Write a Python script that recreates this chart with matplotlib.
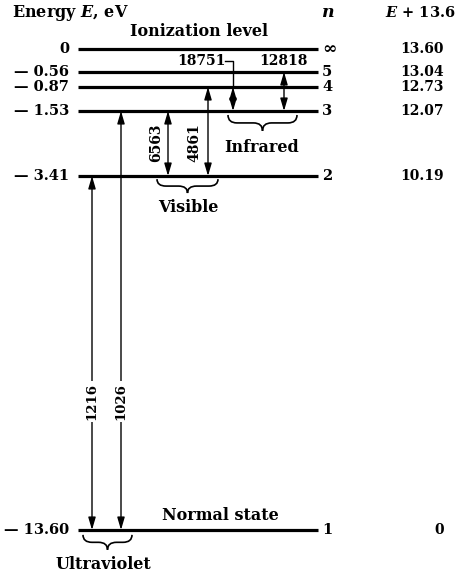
import numpy as np
import matplotlib
matplotlib.use("Agg")
import matplotlib.pyplot as plt
from matplotlib.path import Path
from matplotlib.patches import PathPatch

plt.rcParams['font.family'] = ['DejaVu Serif']
plt.rcParams['font.weight'] = 'bold'
plt.rcParams['mathtext.fontset'] = 'dejavuserif'

# hydrogen energy levels
energies = [0.0, -0.56, -0.87, -1.53, -3.41, -13.60]
n_labels = ['\u221e', '5', '4', '3', '2', '1']
n_values = [np.inf, 5, 4, 3, 2, 1]
e_plus = [13.60, 13.04, 12.73, 12.07, 10.19, 0]

# transitions (wavelength in angstrom)
wavelengths = [1216, 1026, 6563, 4861, 18751, 12818]
upper_n = [2, 3, 3, 4, 4, 5]
lower_n = [1, 1, 2, 2, 3, 3]

# layout of the drawing (x in pixels, y in eV)
arrow_x = [92, 121, 168, 208, 233, 284]
label_pos = [(92, -9.89, 'in'), (121, -9.89, 'in'), (156, -2.455, 'rot'),
             (194, -2.455, 'rot'), (201, -0.29, 'flat'), (283, -0.29, 'flat')]
level_E = dict(zip(n_values, energies))

# schematic energy axis: slightly stretched near the ionization limit
knot_E = np.array([-40.0, -13.60, -3.41, -1.53, -0.87, -0.56, 0.0, 40.0])
knot_px = np.array([530 + 26.4 * 34.7, 530, 176, 111, 87, 72, 49, 49 - 40 * 34.7])


def fwd(e):
    return np.interp(np.asarray(e, float), knot_E, -knot_px)


def inv(v):
    return np.interp(np.asarray(v, float), -knot_px, knot_E)


fig = plt.figure(figsize=(4.56, 5.75), dpi=100)
ax = fig.add_axes([0, 0, 1, 1])
ax.set_yscale('function', functions=(fwd, inv))
ax.set_xlim(0, 456)
ax.set_ylim(float(inv(-575)), float(inv(0)))
ax.axis('off')

fs = 11.5   # words
fd = 10.5   # numbers

# levels
for E, nl, ep in zip(energies, n_labels, e_plus):
    ax.hlines(E, 78, 318, color='black', lw=2.3, zorder=3)
    txt = '0' if E == 0 else '\u2014 %.2f' % abs(E)
    ax.text(69, E, txt, ha='right', va='center', fontsize=fd)
    ax.text(322, E, nl, ha='left', va='center', fontsize=fd + (2 if nl == '\u221e' else 0))
    ax.text(444, E, '0' if ep == 0 else '%.2f' % ep, ha='right', va='center', fontsize=10)

# headers
ax.text(12, 1.04, r'Energy $\mathbfit{E}$, eV', ha='left', va='center', fontsize=fs)
ax.text(328, 1.04, r'$\mathbfit{n}$', ha='center', va='center', fontsize=fs + 1)
ax.text(456, 1.04, r'$\mathbfit{E}$ + 13.6', ha='right', va='center', fontsize=10.5)
ax.text(199, 0.49, 'Ionization level', ha='center', va='center', fontsize=fs)
ax.text(220, -13.17, 'Normal state', ha='center', va='center', fontsize=fs)

# transition arrows
for wl, nu, nlo, x, (lx, ly, mode) in zip(wavelengths, upper_n, lower_n, arrow_x, label_pos):
    ax.annotate('', xy=(x, level_E[nlo]), xytext=(x, level_E[nu]),
                arrowprops=dict(arrowstyle='<|-|>,head_length=0.75,head_width=0.22',
                                mutation_scale=10, lw=1.0, color='black',
                                shrinkA=0, shrinkB=0), zorder=4)
    if mode == 'in':
        ax.text(lx, ly, str(wl), rotation=90, ha='center', va='center', fontsize=9.5,
                bbox=dict(fc='white', ec='none', pad=1.5), zorder=5)
    elif mode == 'rot':
        ax.text(lx, ly, str(wl), rotation=90, ha='center', va='center', fontsize=10)
    else:
        ax.text(lx, ly, str(wl), ha='center', va='center', fontsize=10)

# leader from 18751 to its arrow
ax.plot([225, 233, 233], [-0.30, -0.30, -0.87], color='black', lw=1.0)


def brace(x0, x1, e_top, depth):
    xm = (x0 + x1) / 2
    r = min(9, (x1 - x0) / 4)
    ym = e_top - depth / 2
    yb = e_top - depth
    verts = [(x0, e_top), (x0, ym), (x0 + r, ym), (xm - r, ym), (xm, ym), (xm, yb),
             (xm, ym), (xm + r, ym), (x1 - r, ym), (x1, ym), (x1, e_top)]
    codes = [Path.MOVETO, Path.CURVE3, Path.CURVE3, Path.LINETO, Path.CURVE3, Path.CURVE3,
             Path.CURVE3, Path.CURVE3, Path.LINETO, Path.CURVE3, Path.CURVE3]
    ax.add_patch(PathPatch(Path(verts, codes), fc='none', ec='black', lw=1.2))


# series groups
groups = ['Infrared', 'Visible', 'Ultraviolet']
brace(228, 297, -1.645, 0.46)
brace(157, 218, -3.50, 0.40)
brace(83, 132, -13.74, 0.43)
ax.text(262, -2.60, groups[0], ha='center', va='center', fontsize=fs)
ax.text(188, -4.33, groups[1], ha='center', va='center', fontsize=fs)
ax.text(103, -14.58, groups[2], ha='center', va='center', fontsize=fs)

fig.savefig('out.png', dpi=100)
